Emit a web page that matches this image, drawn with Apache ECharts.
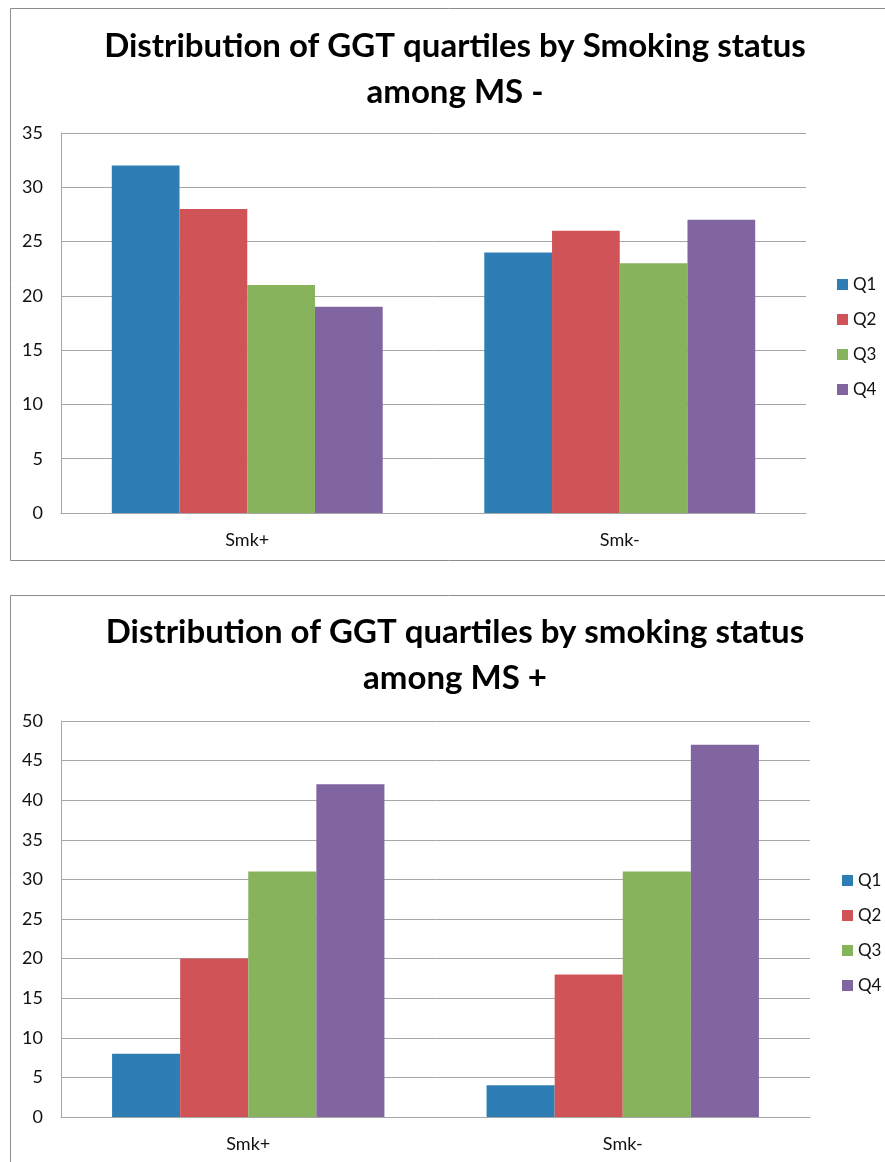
<!DOCTYPE html>
<html>
<head>
<meta charset="utf-8">
<script src="https://cdn.jsdelivr.net/npm/echarts@6/dist/echarts.min.js"></script>
<style>
html,body{margin:0;padding:0;background:#fff;}
#chart{width:885px;height:1162px;}
</style>
</head>
<body>
<div id="chart"></div>
<script>
// ---- data ----
const categories = ['Smk+', 'Smk-'];
const quartiles = ['Q1', 'Q2', 'Q3', 'Q4'];
const colors = ['#2E7EB5', '#D05457', '#87B35D', '#8165A0'];

// Chart 1: among MS -
const title1Lines = ['Distribution of GGT quartiles by Smoking status', 'among MS -'];
const q1MsNeg = [32, 24];
const q2MsNeg = [28, 26];
const q3MsNeg = [21, 23];
const q4MsNeg = [19, 27];
const yMax1 = 35;

// Chart 2: among MS +
const title2Lines = ['Distribution of GGT quartiles by smoking status', 'among MS +'];
const q1MsPos = [8, 4];
const q2MsPos = [20, 18];
const q3MsPos = [31, 31];
const q4MsPos = [42, 47];
const yMax2 = 50;

const yInterval = 5;

const FONT = 'Lato, "Open Sans", sans-serif';
const chart = echarts.init(document.getElementById('chart'));

const negData = [q1MsNeg, q2MsNeg, q3MsNeg, q4MsNeg];
const posData = [q1MsPos, q2MsPos, q3MsPos, q4MsPos];

function makeSeries(dataSets, idx) {
  return dataSets.map((d, i) => ({
    name: quartiles[i],
    type: 'bar',
    xAxisIndex: idx,
    yAxisIndex: idx,
    data: d,
    barGap: '0%',
    barCategoryGap: '27.27%',
    itemStyle: { color: colors[i] },
    emphasis: { disabled: true }
  }));
}

function xAx(idx) {
  return {
    type: 'category', gridIndex: idx, data: categories,
    axisLine: { show: true, lineStyle: { color: '#a6a6a6', width: 1 } },
    axisTick: { show: false },
    axisLabel: { color: '#111', fontFamily: FONT, fontSize: 18, margin: 18 }
  };
}
function yAx(idx, max) {
  return {
    type: 'value', gridIndex: idx, min: 0, max: max, interval: yInterval,
    axisLine: { show: true, lineStyle: { color: '#a6a6a6', width: 1 } },
    axisTick: { show: false },
    splitLine: { show: true, lineStyle: { color: '#a6a6a6', width: 1 } },
    axisLabel: { color: '#111', fontFamily: FONT, fontSize: 18, margin: 18 }
  };
}
function legendAt(idx, left, top) {
  return {
    data: quartiles, orient: 'vertical', left: left, top: top, padding: 0,
    icon: 'rect', itemWidth: 11, itemHeight: 11, itemGap: 18,
    textStyle: { fontFamily: FONT, fontSize: 17, lineHeight: 17, color: '#111' },
    selectedMode: false
  };
}
function titleText(txt, x, y) {
  return {
    type: 'text', x: x, y: y, silent: true,
    style: { text: txt, fill: '#000', font: 'bold 33px ' + FONT, textAlign: 'center', textVerticalAlign: 'middle' }
  };
}

chart.setOption({
  animation: false,
  grid: [
    { left: 61, top: 133, width: 745, height: 380 },
    { left: 61, top: 721, width: 749, height: 396 }
  ],
  xAxis: [xAx(0), xAx(1)],
  yAxis: [yAx(0, yMax1), yAx(1, yMax2)],
  legend: [legendAt(0, 837, 276), legendAt(1, 842, 872)],
  series: makeSeries(negData, 0).concat(makeSeries(posData, 1)),
  graphic: [
    { type: 'rect', silent: true, shape: { x: 10.5, y: 8.5, width: 900, height: 552 },
      style: { fill: 'none', stroke: '#8c8c8c', lineWidth: 1 } },
    { type: 'rect', silent: true, shape: { x: 10.5, y: 595.5, width: 900, height: 600 },
      style: { fill: 'none', stroke: '#8c8c8c', lineWidth: 1 } },
    titleText(title1Lines[0], 455, 46),
    titleText(title1Lines[1], 455, 92),
    titleText(title2Lines[0], 455, 632),
    titleText(title2Lines[1], 455, 678)
  ]
});
</script>
</body>
</html>
